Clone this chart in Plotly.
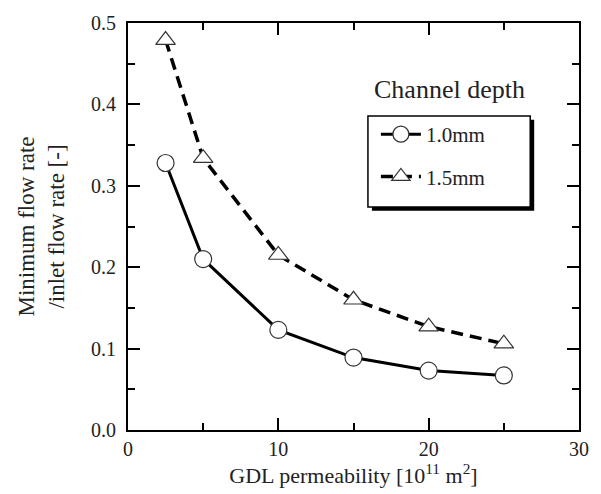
import plotly.graph_objects as go

permeability = [2.5, 5, 10, 15, 20, 25]
depth_10 = [0.328, 0.210, 0.123, 0.089, 0.073, 0.067]
depth_15 = [0.479, 0.334, 0.215, 0.160, 0.127, 0.106]
series_names = ["1.0mm", "1.5mm"]

FONT = "Liberation Serif, Times New Roman, serif"
W, H = 601, 494
L, R, T, B = 128, 20, 14, 64
pw, ph = W - L - R, H - T - B

def px(x):
    return (x - L) / pw

def py(y):
    return (H - B - y) / ph

fig = go.Figure()
fig.add_trace(go.Scatter(
    x=permeability, y=depth_10, name=series_names[0], mode="lines+markers",
    legendgroup="a",
    line=dict(color="black", width=3),
    marker=dict(symbol="circle", size=17, color="white", line=dict(color="#333", width=1.2)),
))
fig.add_trace(go.Scatter(
    x=permeability, y=depth_15, name=series_names[1], mode="lines+markers",
    legendgroup="b",
    line=dict(color="black", width=3.5, dash="12px,7px"),
    marker=dict(symbol="triangle-up", size=17, color="white", line=dict(color="#333", width=1.2)),
))

axis_common = dict(
    showline=True, linecolor="black", linewidth=2, mirror="allticks",
    ticks="inside", ticklen=12, tickwidth=2, tickcolor="black",
    showgrid=False, zeroline=False,
    tickfont=dict(family=FONT, size=20, color="#222"),
)
fig.update_xaxes(
    range=[0, 30], tickvals=[0, 10, 20, 30], ticktext=["0", "10", "20", "30"],
    minor=dict(tickvals=[5, 15, 25], ticks="inside", ticklen=7, tickwidth=2, tickcolor="black"),
    title=dict(text="GDL permeability [10<sup>11</sup> m<sup>2</sup>]",
               font=dict(family=FONT, size=22, color="#222"), standoff=6),
    **axis_common,
)
fig.update_yaxes(
    range=[0, 0.5], tickvals=[0, 0.1, 0.2, 0.3, 0.4, 0.5],
    ticktext=["0.0", "0.1", "0.2", "0.3", "0.4", "0.5"],
    minor=dict(tickvals=[0.05, 0.15, 0.25, 0.35, 0.45], ticks="inside", ticklen=7, tickwidth=2, tickcolor="black"),
    title=dict(text="Minimum flow rate<br>/inlet flow rate [-]",
               font=dict(family=FONT, size=23, color="#222"), standoff=20),
    ticklabelstandoff=6,
    **axis_common,
)

# legend box with drop shadow
bx0, by0, bx1, by1 = 369, 109, 532, 202
fig.add_shape(type="rect", xref="paper", yref="paper",
              x0=px(bx0 + 4), x1=px(bx1 + 4), y0=py(by1 + 4), y1=py(by0 + 4),
              fillcolor="black", line=dict(width=0), layer="above")
fig.add_shape(type="rect", xref="paper", yref="paper",
              x0=px(bx0), x1=px(bx1), y0=py(by1), y1=py(by0),
              fillcolor="white", line=dict(color="black", width=1.5), layer="above")

fig.add_annotation(text="Channel depth", xref="paper", yref="paper",
                   x=px(451), y=py(82), xanchor="center", yanchor="middle",
                   showarrow=False,
                   font=dict(family=FONT, size=26, color="#222"))

fig.update_layout(
    width=W, height=H,
    margin=dict(l=L, r=R, t=T, b=B),
    plot_bgcolor="white", paper_bgcolor="white",
    showlegend=True,
    legend=dict(x=px(377), y=py(107), xanchor="left", yanchor="top",
                bgcolor="rgba(0,0,0,0)", borderwidth=0,
                font=dict(family=FONT, size=21, color="#222"),
                itemwidth=40, tracegroupgap=12),
)

fig.write_html("out.html")
